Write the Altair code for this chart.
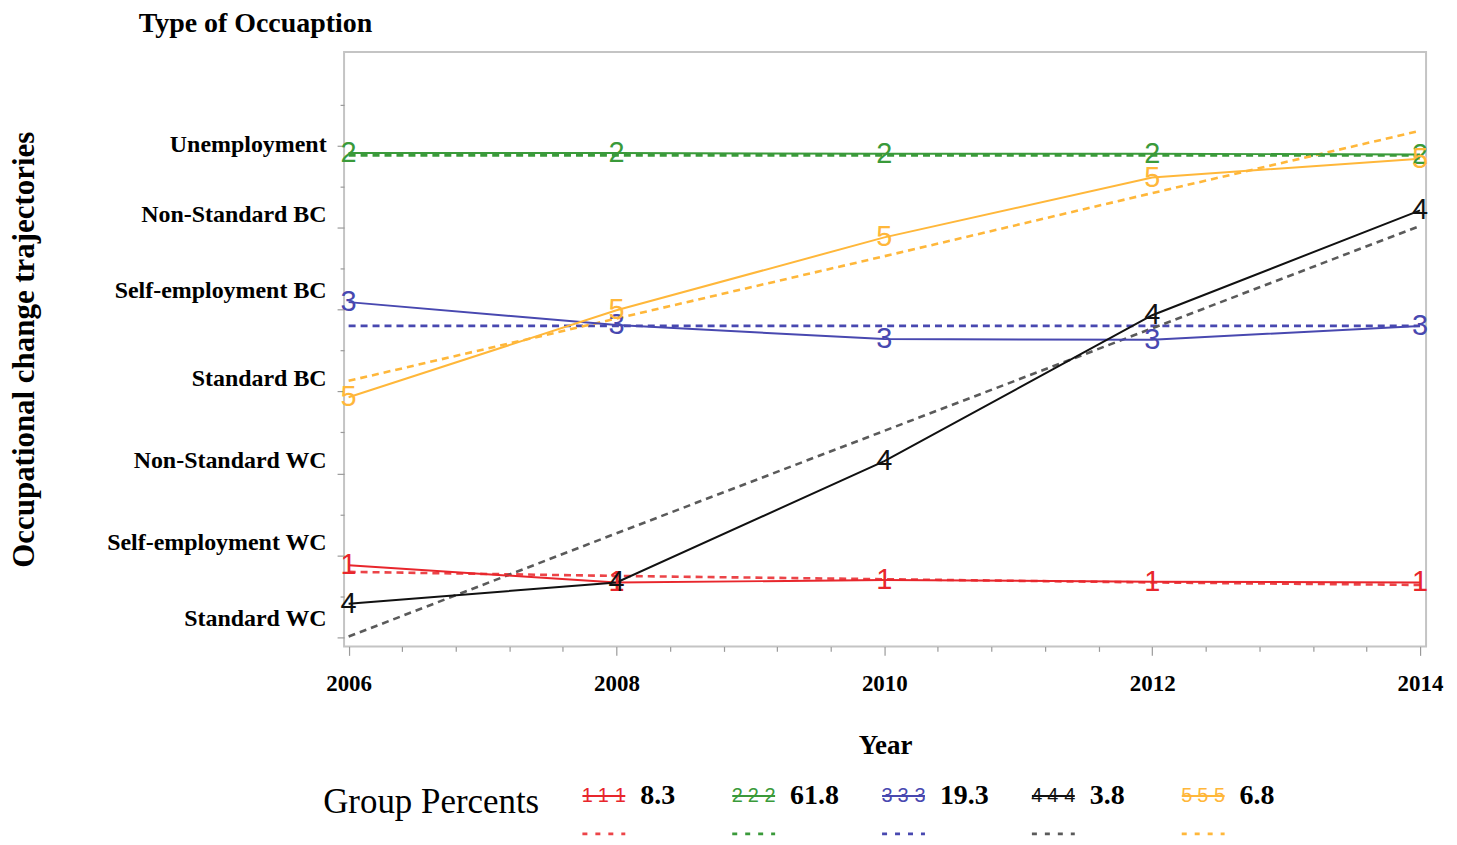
import altair as alt
import pandas as pd

# ---------------- data ----------------
years = [2006, 2008, 2010, 2012, 2014]
groups = ["1", "2", "3", "4", "5"]
percents = ["8.3", "61.8", "19.3", "3.8", "6.8"]
occupations = ["Standard WC", "Self-employment WC", "Non-Standard WC", "Standard BC",
               "Self-employment BC", "Non-Standard BC", "Unemployment"]

# observed trajectories (solid lines with group markers)
obs_1 = [1.88, 1.67, 1.70, 1.68, 1.67]
obs_2 = [6.91, 6.91, 6.90, 6.90, 6.89]
obs_3 = [5.09, 4.81, 4.64, 4.63, 4.80]
obs_4 = [1.41, 1.67, 3.15, 4.93, 6.21]
obs_5 = [3.93, 4.99, 5.88, 6.61, 6.84]

# predicted trajectories (dashed lines)
pred_1 = [1.80, 1.75, 1.71, 1.67, 1.64]
pred_2 = [6.88, 6.88, 6.88, 6.88, 6.88]
pred_3 = [4.80, 4.80, 4.80, 4.80, 4.80]
pred_4 = [1.01, 2.27, 3.52, 4.77, 6.02]
pred_5 = [4.13, 4.89, 5.65, 6.42, 7.18]

obs_all = [obs_1, obs_2, obs_3, obs_4, obs_5]
pred_all = [pred_1, pred_2, pred_3, pred_4, pred_5]

rows = []
for g, ob, pr in zip(groups, obs_all, pred_all):
    for yr, o, p in zip(years, ob, pr):
        rows.append({"year": yr, "group": g, "obs": o, "pred": p})
df = pd.DataFrame(rows)

leg_rows = []
for g, pc in zip(groups, percents):
    leg_rows.append({"group": g, "pct": pc, "row": "obs"})
    leg_rows.append({"group": g, "pct": pc, "row": "pred"})
leg = pd.DataFrame(leg_rows)

# ---------------- styling ----------------
SERIF = "Liberation Serif"
solid_colors = ["#e8262c", "#3a9a3a", "#4848b0", "#111111", "#ffb73a"]
dash_colors = ["#ec4448", "#3a9a3a", "#4848b0", "#5a5a5a", "#ffb73a"]

W, H = 1085, 596
x_scale = alt.Scale(domain=[2005.966, 2014.045], nice=False, zero=False)
y_scale = alt.Scale(domain=[0.8905, 8.141], nice=False, zero=False)

x_ticks = [round(2006 + 0.2 * k, 1) for k in range(41)]
y_ticks = [round(1 + 0.5 * k, 1) for k in range(14)]

occ_js = "[''," + ",".join("'" + o + "'" for o in occupations) + "]"

x_axis = alt.Axis(
    values=x_ticks,
    labelExpr="abs(datum.value - round(datum.value)) < 0.01 && round(datum.value) % 2 == 0 ? toString(round(datum.value)) : ''",
    tickSize={"condition": {"test": "abs(datum.value - round(datum.value)) < 0.01", "value": 9}, "value": 5},
    tickColor="#9a9a9a", tickWidth=1.2, domain=False, grid=False,
    labelFont=SERIF, labelFontSize=23, labelFontWeight="bold", labelColor="black",
    labelPadding=17, labelFlush=False, labelOverlap=False,
    title="Year", titleFont=SERIF, titleFontSize=27, titleFontWeight="bold",
    titleColor="black", titlePadding=37,
)

y_axis = alt.Axis(
    values=y_ticks,
    labelExpr="abs(datum.value - round(datum.value)) < 0.01 && datum.value <= 7 ? " + occ_js + "[round(datum.value)] : ''",
    tickSize={"condition": {"test": "abs(datum.value - round(datum.value)) < 0.01", "value": 7}, "value": 4},
    labelOffset={"condition": [{"test": "datum.value > 6.5", "value": -1},
                               {"test": "datum.value < 1.5", "value": -19},
                               {"test": "datum.value > 4.5 && datum.value < 5.5", "value": -19}],
                 "value": -13},
    tickColor="#9a9a9a", tickWidth=1.2, domain=False, grid=False,
    labelFont=SERIF, labelFontSize=24, labelFontWeight="bold", labelColor="black",
    labelPadding=11, labelOverlap=False, labelLimit=400,
    title="Occupational change trajectories", titleFont=SERIF, titleFontSize=31,
    titleFontWeight="bold", titleColor="black", titlePadding=104,
)

base = alt.Chart(df)
col_solid = alt.Color("group:N", scale=alt.Scale(domain=groups, range=solid_colors), legend=None)
col_dash = alt.Color("group:N", scale=alt.Scale(domain=groups, range=dash_colors), legend=None)

dashed = base.mark_line(strokeWidth=2.6, strokeDash=[7, 5]).encode(
    x=alt.X("year:Q", scale=x_scale, axis=x_axis),
    y=alt.Y("pred:Q", scale=y_scale, axis=y_axis),
    color=col_dash, detail="group:N",
)
solid = base.mark_line(strokeWidth=2).encode(
    x=alt.X("year:Q", scale=x_scale),
    y=alt.Y("obs:Q", scale=y_scale),
    color=col_solid, detail="group:N",
)
markers = base.mark_text(font="Liberation Sans", fontSize=29, baseline="middle", align="center").encode(
    x=alt.X("year:Q", scale=x_scale),
    y=alt.Y("obs:Q", scale=y_scale),
    text="group:N",
    color=col_solid,
)

main = alt.layer(dashed, solid, markers).resolve_scale(color="independent").properties(
    width=W, height=H,
    title=alt.TitleParams("Type of Occuaption", font=SERIF, fontSize=28, fontWeight="bold",
                          color="black", anchor="start", frame="bounds", dx=130, offset=14),
    view=alt.ViewBackground(stroke="#c4c4c4", strokeWidth=2),
)

# ---------------- custom legend panel ----------------
lx = alt.X("group:N", scale=alt.Scale(type="point", domain=groups, range=[239, 840], padding=0), axis=None)
ly = alt.Y("row:N", scale=alt.Scale(type="point", domain=["obs", "pred"], range=[6, 44], padding=0), axis=None)
lbase = alt.Chart(leg)
leg_solid = lbase.transform_filter("datum.row == 'obs'").mark_rule(strokeWidth=2, x2Offset=43).encode(
    x=lx, x2="group:N", y=ly, color=col_solid)
leg_dash = lbase.transform_filter("datum.row == 'pred'").mark_rule(strokeWidth=2.8, strokeDash=[5, 8], x2Offset=43).encode(
    x=lx, x2="group:N", y=ly, color=col_dash)
leg_marks = [
    lbase.transform_filter("datum.row == 'obs'").mark_text(font="Liberation Sans", fontSize=20, dx=d, baseline="middle").encode(
        x=lx, y=ly, text="group:N", color=col_solid)
    for d in (5, 21, 38)
]
leg_text = lbase.transform_filter("datum.row == 'obs'").mark_text(
    font=SERIF, fontSize=28, fontWeight="bold", align="left", dx=58, baseline="middle", color="black").encode(
    x=lx, y=ly, text="pct:N")
leg_head = alt.Chart(alt.Data(values=[{"t": "Group Percents"}])).mark_text(
    font=SERIF, fontSize=35, align="left", baseline="middle", color="black").encode(
    x=alt.value(-21), y=alt.value(12), text="t:N")

legend_panel = alt.layer(leg_dash, leg_solid, *leg_marks, leg_text, leg_head).resolve_scale(
    color="independent").properties(width=W, height=44, view=alt.ViewBackground(strokeOpacity=0))

chart = alt.vconcat(main, legend_panel, spacing=23).properties(
    padding={"left": 0, "top": 0, "right": 5, "bottom": 0},
).configure(background="white")

chart.save("out.html", embed_options={"renderer": "svg", "actions": False})
